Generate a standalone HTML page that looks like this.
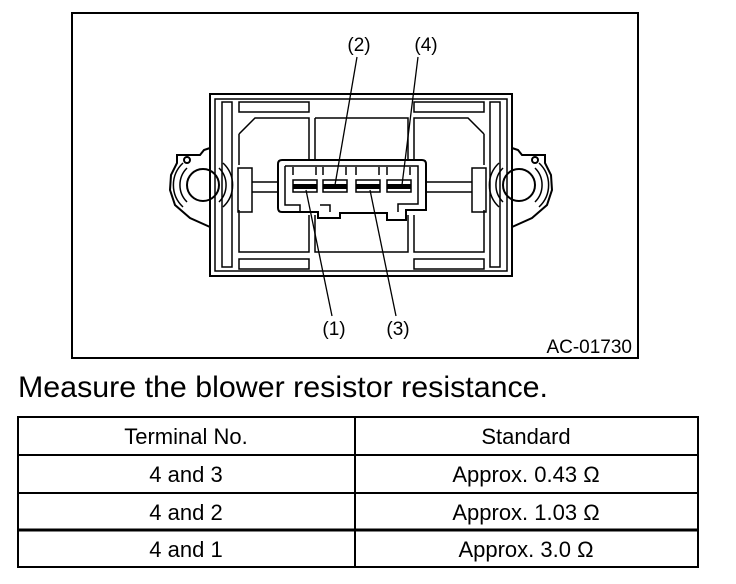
<!DOCTYPE html>
<html><head><meta charset="utf-8"><style>
html,body{margin:0;padding:0;background:#fff;width:736px;height:584px;overflow:hidden;font-family:"Liberation Sans",Arial,sans-serif;}
</style></head><body>
<svg width="736" height="584" viewBox="0 0 736 584" xmlns="http://www.w3.org/2000/svg" style="position:absolute;left:0;top:0">
<g fill="none" stroke="#000" stroke-width="2">
<rect x="72" y="13" width="566" height="345"/>
<rect x="210" y="94" width="302" height="182"/>
<rect x="215" y="99" width="292" height="172" stroke-width="1.5"/>
<rect x="222" y="102" width="10" height="165" stroke-width="1.5"/>
<rect x="490" y="102" width="10" height="165" stroke-width="1.5"/>
<rect x="239" y="102" width="70" height="10" stroke-width="1.5"/>
<rect x="414" y="102" width="70" height="10" stroke-width="1.5"/>
<rect x="239" y="259" width="70" height="10" stroke-width="1.5"/>
<rect x="414" y="259" width="70" height="10" stroke-width="1.5"/>
<path d="M239 134 L255 118 L309 118 L309 160 M239 134 L239 165 M239 210 L239 252 L309 252 L309 215" stroke-width="1.5"/>
<path d="M484 134 L468 118 L414 118 L414 160 M484 134 L484 165 M484 210 L484 252 L414 252 L414 215" stroke-width="1.5"/>
<path d="M315 118 L408 118 L408 160 M315 118 L315 160 M315 215 L315 252 L408 252 L408 215" stroke-width="1.5"/>
<rect x="238" y="168" width="14" height="44" stroke-width="1.5"/>
<rect x="472" y="168" width="14" height="44" stroke-width="1.5"/>
<path d="M252 182 L278 182 M252 192 L278 192 M425 182 L472 182 M425 192 L472 192" stroke-width="1.5"/>
<path d="M210 148 L204 150 L200 155 L177 155 L177 163 L171 175 L170 190 L175 205 L190 218 L210 227"/>
<path d="M512 148 L518 150 L522 155 L545 155 L545 163 L551 175 L552 190 L547 205 L532 218 L512 227"/>
<circle cx="187" cy="160" r="3"/><circle cx="535" cy="160" r="3"/>
<circle cx="203" cy="185" r="16"/><circle cx="519" cy="185" r="16"/>
<path d="M187 168 A24 24 0 0 0 187 202 M219 168 A24 24 0 0 1 219 202 M183 163 A30 30 0 0 0 183 207 M223 163 A30 30 0 0 1 223 207" stroke-width="1.5"/>
<path d="M535 168 A24 24 0 0 1 535 202 M503 168 A24 24 0 0 0 503 202 M539 163 A30 30 0 0 1 539 207 M499 163 A30 30 0 0 0 499 207" stroke-width="1.5"/>
<path d="M282 160 L422 160 Q426 160 426 164 L426 210 L406 210 L406 220 L387 220 L387 213 L340 213 L340 218 L318 218 L318 212 L282 212 Q278 212 278 208 L278 164 Q278 160 282 160 Z"/>
<path d="M285 166 L418 166 L418 204 L398 204 L398 212 M285 166 L285 205 L300 205 L300 212 M320 205 L330 205 L330 212" stroke-width="1.5"/>
<path d="M293 167 L293 175 M316 167 L316 175 M323 167 L323 175 M346 167 L346 175 M356 167 L356 175 M379 167 L379 175 M387 167 L387 175 M410 167 L410 175" stroke-width="1.5"/>
<rect x="293" y="180" width="24" height="12" stroke-width="1.5"/>
<rect x="323" y="180" width="24" height="12" stroke-width="1.5"/>
<rect x="356" y="180" width="24" height="12" stroke-width="1.5"/>
<rect x="387" y="180" width="24" height="12" stroke-width="1.5"/>
</g>
<g fill="#000">
<rect x="293" y="184" width="24" height="5"/><rect x="323" y="184" width="24" height="5"/>
<rect x="356" y="184" width="24" height="5"/><rect x="387" y="184" width="24" height="5"/>
</g>
<g stroke="#000" stroke-width="1.3">
<line x1="357" y1="57" x2="335" y2="185"/>
<line x1="418" y1="57" x2="402" y2="185"/>
<line x1="332" y1="316" x2="306" y2="190"/>
<line x1="396" y1="316" x2="370" y2="190"/>
</g>
<g font-family="Liberation Sans, Arial, sans-serif" font-size="19" fill="#000" text-anchor="middle">
<text x="359" y="51">(2)</text>
<text x="426" y="51">(4)</text>
<text x="334" y="335">(1)</text>
<text x="398" y="335">(3)</text>
<text x="632" y="353" text-anchor="end">AC-01730</text>
</g>
<text x="18" y="397" font-family="Liberation Sans, Arial, sans-serif" font-size="30" fill="#000" textLength="530" lengthAdjust="spacingAndGlyphs">Measure the blower resistor resistance.</text>
<g fill="none" stroke="#000" stroke-width="2">
<rect x="18" y="417" width="680" height="150"/>
<line x1="355" y1="417" x2="355" y2="567"/>
<line x1="18" y1="455" x2="698" y2="455"/>
<line x1="18" y1="493" x2="698" y2="493"/>
<line x1="18" y1="530" x2="698" y2="530" stroke-width="3"/>
</g>
<g font-family="Liberation Sans, Arial, sans-serif" font-size="22" fill="#000" text-anchor="middle">
<text x="186" y="444">Terminal No.</text>
<text x="526" y="444">Standard</text>
<text x="186" y="482">4 and 3</text>
<text x="526" y="482">Approx. 0.43 Ω</text>
<text x="186" y="520">4 and 2</text>
<text x="526" y="520">Approx. 1.03 Ω</text>
<text x="186" y="557">4 and 1</text>
<text x="526" y="557">Approx. 3.0 Ω</text>
</g>
</svg>
</body></html>
